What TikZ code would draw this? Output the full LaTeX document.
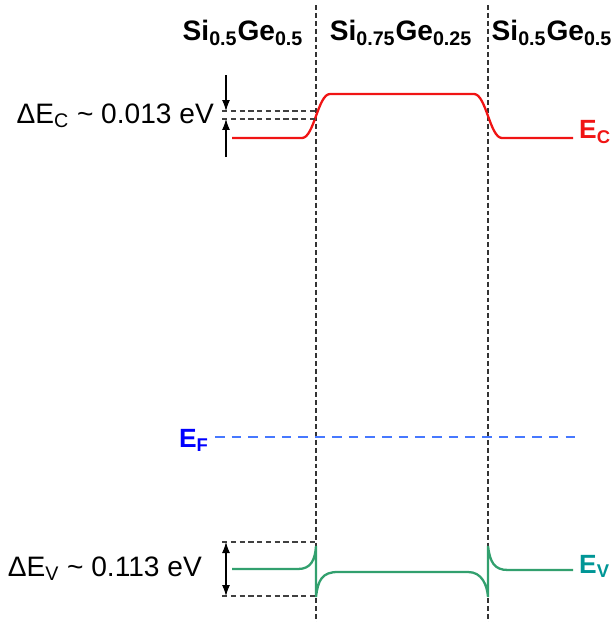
\documentclass[tikz,border=0pt]{standalone}
\usepackage{fontspec}
\setmainfont{Liberation Sans}
\usepackage{xcolor}
\usetikzlibrary{
    arrows.meta,
    positioning,
    calc
}
\tikzset{
  iface/.style  = {dash pattern=on 2.8pt off 1.7pt, line width=0.6pt, black!80},
  guide/.style  = {dash pattern=on 3pt off 2pt, line width=0.6pt, black!75},
  cband/.style  = {line width=1.3pt, BandRed},
  vband/.style  = {line width=1.3pt, BandGreen},
  fermi/.style  = {dash pattern=on 5.5pt off 4pt, line width=1.1pt, FermiBlue},
  arr/.style    = {-{Latex[length=2.2mm,width=1.6mm]}, line width=0.6pt},
  layer/.style  = {font=\fontsize{16}{18}\selectfont\bfseries},
  blabel/.style = {font=\fontsize{15}{17}\selectfont\bfseries},
  offs/.style   = {font=\fontsize{16}{18}\selectfont, anchor=base east}
}
\definecolor{BandRed}{RGB}{240,20,20}
\definecolor{BandGreen}{RGB}{50,160,110}
\definecolor{TealText}{RGB}{0,150,150}
\definecolor{FermiBlue}{RGB}{70,120,255}

\begin{document}
\begin{tikzpicture}[x=0.02cm, y=-0.02cm]
\useasboundingbox (0,0) rectangle (613,622);
% interfaces
\coordinate (i1top) at (316,5);
\coordinate (i1bot) at (316,622);
\coordinate (i2top) at (488,5);
\coordinate (i2bot) at (488,622);
\draw[iface] (i1top) -- (i1bot);
\draw[iface] (i2top) -- (i2bot);
% layer names
\node[layer] (sgL) at (243,33) {Si\textsubscript{0.5}Ge\textsubscript{0.5}};
\node[layer] (sgM) at (401,33) {Si\textsubscript{0.75}Ge\textsubscript{0.25}};
\node[layer] (sgR) at (552,33) {Si\textsubscript{0.5}Ge\textsubscript{0.5}};
% conduction band
\draw[cband] (232,138) -- (302,138) .. controls (314,138) and (318,94) .. (330,94)
  -- (474,94) .. controls (486,94) and (490,138) .. (502,138) -- (573,138);
\node[blabel, text=BandRed, anchor=west] (ec) at (573,132) {E\textsubscript{C}};
% valence band
\draw[vband] (232,569) -- (298,569) .. controls (311,569) and (315,560) .. (316,546)
  -- (316,597) .. controls (318,580) and (322,572) .. (338,572)
  -- (468,572) .. controls (482,572) and (487,585) .. (488,597)
  -- (488,546) .. controls (490,562) and (494,570) .. (508,570) -- (573,570);
\node[blabel, text=TealText, anchor=west] (ev) at (573,566) {E\textsubscript{V}};
% Fermi level
\coordinate (efA) at (215,437);
\coordinate (efB) at (580,437);
\draw[fermi] (efA) -- (efB);
\node[blabel, text=blue, anchor=east] (ef) at (215,440) {E\textsubscript{F}};
% conduction band offset
\coordinate (c1) at (222,111);
\coordinate (c2) at (222,119);
\draw[guide] (c1) -- (c1 -| i1top);
\draw[guide] (c2) -- (c2 -| i1top);
\coordinate (cta) at (226,75);
\coordinate (ctb) at (226,111);
\coordinate (cba) at (226,157);
\coordinate (cbb) at (226,119);
\draw[arr] (cta) -- (ctb);
\draw[arr] (cba) -- (cbb);
\node[offs] (dEc) at (220,123) {ΔE\textsubscript{C} \textasciitilde{} 0.013 eV};
% valence band offset
\coordinate (v1) at (222,542);
\coordinate (v2) at (222,596);
\draw[guide] (v1) -- (v1 -| i1top);
\draw[guide] (v2) -- (v2 -| i1top);
\coordinate (vta) at (226,542);
\coordinate (vtb) at (226,596);
\draw[arr, {Latex[length=2.2mm,width=1.6mm]}-{Latex[length=2.2mm,width=1.6mm]}] (vta) -- (vtb);
\node[offs] (dEv) at (208,576) {ΔE\textsubscript{V} \textasciitilde{} 0.113 eV};
\end{tikzpicture}
\end{document}
